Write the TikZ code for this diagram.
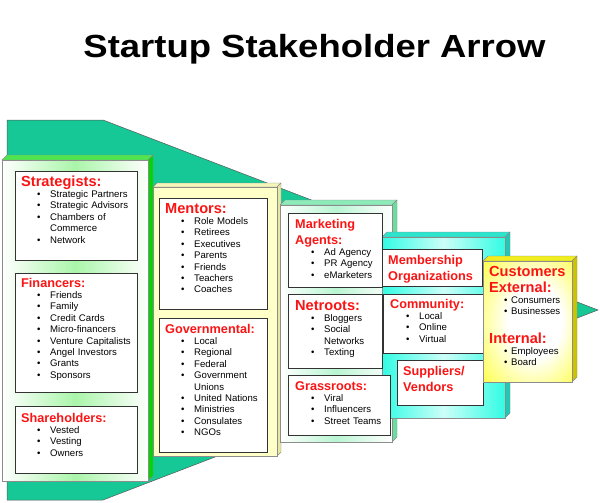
\documentclass[tikz,border=0pt]{standalone}
\usepackage{fontspec}
\setmainfont{Liberation Sans}
\usepackage{graphicx}
\usepackage{xcolor}

\definecolor{arrowgreen}{RGB}{22,200,150}
\definecolor{headred}{RGB}{250,20,20}
\definecolor{greentop}{RGB}{80,228,80}
\definecolor{greenside}{RGB}{0,215,0}
\definecolor{greenglow}{RGB}{170,245,170}
\definecolor{creamfront}{RGB}{255,255,200}
\definecolor{creamtop}{RGB}{245,245,185}
\definecolor{creamside}{RGB}{232,232,165}
\definecolor{minttop}{RGB}{140,235,185}
\definecolor{mintside}{RGB}{105,222,160}
\definecolor{mintglow}{RGB}{185,245,210}
\definecolor{cyanfront}{RGB}{50,252,228}
\definecolor{cyantop}{RGB}{45,228,205}
\definecolor{cyanside}{RGB}{35,200,180}
\definecolor{yellowfront}{RGB}{255,255,20}
\definecolor{yellowtop}{RGB}{240,238,30}
\definecolor{yellowside}{RGB}{205,195,0}

\pgfdeclareradialshading{yellowglow}{\pgfpoint{6bp}{0bp}}{%
  color(0bp)=(white); color(15bp)=(white); color(44bp)=(yellowfront);
  color(50bp)=(yellowfront)}

\newcommand\itemfont{\fontsize{9.6}{11.4}\selectfont}
\newcommand\hd[1]{{\fontsize{12.7}{14}\selectfont\bfseries\color{headred}#1}}
\newcommand\hdbig[1]{{\fontsize{14.6}{16}\selectfont\bfseries\color{headred}#1}}
\newcommand\itm[1]{\hspace*{16pt}\makebox[13pt][l]{\textbullet}#1}
\newcommand\itmc[1]{\hspace*{15pt}\makebox[7pt][l]{\textbullet}#1}
\newcommand\more[1]{\hspace*{29pt}#1}
% top and right faces of a raised panel
\newcommand\slab[7]{%
  \filldraw[edge, fill=#6] (#1,#2) -- (#1+#5,#2-#5) -- (#3+#5,#2-#5) -- (#3,#2) -- cycle;
  \filldraw[edge, fill=#7] (#3,#2) -- (#3+#5,#2-#5) -- (#3+#5,#4-#5) -- (#3,#4) -- cycle;}

\begin{document}
\begin{tikzpicture}[
    x=1pt, y=-1pt,
    edge/.style={draw=black!45, line width=0.4pt},
    arrowbody/.style={fill=arrowgreen, draw=black!65, line width=0.5pt},
    card/.style={draw=black!80, line width=0.8pt, fill=white},
    txt/.style={anchor=base west, inner sep=0pt, text width=140pt, align=left,
                font=\itemfont}
]
\useasboundingbox (0,0) rectangle (600,503);
\fill[white] (0,0) rectangle (600,503);

\node[anchor=base, font=\fontsize{32}{36}\selectfont\bfseries] (title) at (314.5,58)
  {\scalebox{1.14}[1]{Startup Stakeholder Arrow}};

\filldraw[arrowbody] (7,120) -- (103,120) -- (598,310) -- (103,500) -- (7,500) -- cycle;

\slab{2}{160}{148}{481}{5}{greentop}{greenside}
\draw[edge, left color=white, right color=white, middle color=greenglow] (2,160) rectangle (148,481);

\slab{153}{187}{277}{456}{4}{creamtop}{creamside}
\draw[edge, fill=creamfront] (153,187) rectangle (277,456);

\slab{280}{205}{392}{442}{5}{minttop}{mintside}
\draw[edge, left color=white, right color=white, middle color=mintglow] (280,205) rectangle (392,442);

\slab{382}{237}{505}{418}{5}{cyantop}{cyanside}
\draw[edge, left color=cyanfront, right color=cyanfront, middle color=cyanfront!25!white] (382,237) rectangle (505,418);

\foreach \xa/\ya/\xb/\yb in {15/171/137/260, 15/273/137/392, 15/406/137/473,
    159/198/267/309, 159/318/267/452,
    288/213/382/287, 288/294/382/368, 288/375/390/435,
    382/249/482/286, 383/294/484/353, 397/360/483/405}
  \draw[card] (\xa,\ya) rectangle (\xb,\yb);

\node[txt] (strat) at (21,186) {\hdbig{Strategists:}\\
  \itm{Strategic Partners}\\
  \itm{Strategic Advisors}\\
  \itm{Chambers of}\\
  \more{Commerce}\\
  \itm{Network}};
\node[txt] (fin) at (21,287) {\hd{Financers:}\\
  \itm{Friends}\\
  \itm{Family}\\
  \itm{Credit Cards}\\
  \itm{Micro-financers}\\
  \itm{Venture Capitalists}\\
  \itm{Angel Investors}\\
  \itm{Grants}\\
  \itm{Sponsors}};
\node[txt] (share) at (21,422) {\hd{Shareholders:}\\
  \itm{Vested}\\
  \itm{Vesting}\\
  \itm{Owners}};

\node[txt] (ment) at (165,213) {\hdbig{Mentors:}\\
  \itm{Role Models}\\
  \itm{Retirees}\\
  \itm{Executives}\\
  \itm{Parents}\\
  \itm{Friends}\\
  \itm{Teachers}\\
  \itm{Coaches}};
\node[txt] (gov) at (165,333) {\hd{Governmental:}\\
  \itm{Local}\\
  \itm{Regional}\\
  \itm{Federal}\\
  \itm{Government}\\
  \more{Unions}\\
  \itm{United Nations}\\
  \itm{Ministries}\\
  \itm{Consulates}\\
  \itm{NGOs}};

\node[txt] (mkt) at (295,228) {\hd{Marketing}\\[3.6pt]
  \hd{Agents:}\\
  \itm{Ad Agency}\\
  \itm{PR Agency}\\
  \itm{eMarketers}};
\node[txt] (net) at (295,310) {\hdbig{Netroots:}\\
  \itm{Bloggers}\\
  \itm{Social}\\
  \more{Networks}\\
  \itm{Texting}};
\node[txt] (grass) at (295,390) {\hd{Grassroots:}\\
  \itm{Viral}\\
  \itm{Influencers}\\
  \itm{Street Teams}};

\node[txt] (memb) at (388,264) {\hd{Membership}\\[3.6pt]
  \hd{Organizations}};
\node[txt] (comm) at (390,308) {\hd{Community:}\\
  \itm{Local}\\
  \itm{Online}\\
  \itm{Virtual}};
\node[txt] (supp) at (403,375) {\hd{Suppliers/}\\[3.6pt]
  \hd{Vendors}};

\slab{483}{261}{572}{382}{5}{yellowtop}{yellowside}
\draw[edge, shading=yellowglow] (483,261) rectangle (572,382);
\node[txt] (cust) at (489,276) {\hdbig{Customers}\\[4.6pt]
  \hdbig{External:}\\
  \itmc{Consumers}\\
  \itmc{Businesses}\\[16.8pt]
  \hdbig{Internal:}\\
  \itmc{Employees}\\
  \itmc{Board}};
\end{tikzpicture}
\end{document}
